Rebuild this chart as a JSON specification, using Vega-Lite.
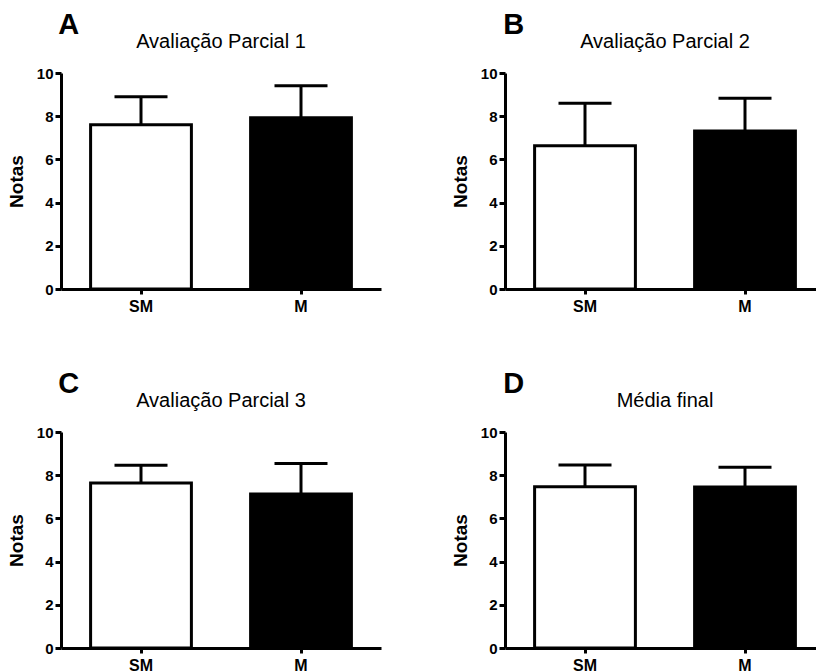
{
  "$schema": "https://vega.github.io/schema/vega-lite/v6.json",
  "padding": {"left": 7, "top": 11, "right": 0, "bottom": 0},
  "background": "white",
  "config": {
    "font": "Liberation Sans",
    "view": {"stroke": null},
    "axis": {
      "grid": false,
      "domainColor": "black",
      "domainWidth": 3,
      "tickColor": "black",
      "tickWidth": 3,
      "labelColor": "black",
      "labelFont": "Liberation Sans",
      "labelFontSize": 15,
      "labelFontWeight": "bold",
      "titleColor": "black",
      "titleFont": "Liberation Sans",
      "titleFontSize": 19,
      "titleFontWeight": "bold"
    },
    "title": {"color": "black", "font": "Liberation Sans"}
  },
  "data": {
    "values": [
      {"panel": "A", "group": "SM", "mean": 7.6, "upper": 8.9},
      {"panel": "A", "group": "M", "mean": 7.93, "upper": 9.41},
      {"panel": "B", "group": "SM", "mean": 6.63, "upper": 8.6},
      {"panel": "B", "group": "M", "mean": 7.31, "upper": 8.83},
      {"panel": "C", "group": "SM", "mean": 7.64, "upper": 8.46},
      {"panel": "C", "group": "M", "mean": 7.13, "upper": 8.54},
      {"panel": "D", "group": "SM", "mean": 7.46, "upper": 8.47},
      {"panel": "D", "group": "M", "mean": 7.45, "upper": 8.37}
    ]
  },
  "columns": 2,
  "spacing": {"row": 56, "column": 70},
  "concat": [
    {
      "title": {"text": "A", "anchor": "start", "fontSize": 29, "fontWeight": "bold", "dx": 51, "offset": -8},
      "vconcat": [
        {
          "title": {"text": "Avaliação Parcial 1", "fontSize": 20, "fontWeight": "normal", "anchor": "middle", "frame": "group", "offset": 14},
          "width": 320, "height": 216,
          "transform": [{"filter": "datum.panel == 'A'"}],
          "encoding": {"x": {"field": "group", "type": "nominal", "sort": ["SM", "M"], "scale": {"paddingInner": 0.37, "paddingOuter": 0.185}, "axis": {"title": null, "labelAngle": 0, "tickSize": 5, "labelPadding": 4, "labelFontSize": 16}}},
          "layer": [
            {"mark": {"type": "bar", "stroke": "black", "strokeWidth": 3}, "encoding": {"y": {"field": "mean", "type": "quantitative", "scale": {"domain": [0, 10]}, "axis": {"title": "Notas", "values": [0, 2, 4, 6, 8, 10], "tickSize": 6, "labelPadding": 2, "titlePadding": 10}}, "fill": {"field": "group", "type": "nominal", "scale": {"domain": ["SM", "M"], "range": ["white", "black"]}, "legend": null}}},
            {"mark": {"type": "rule", "color": "black", "strokeWidth": 3}, "encoding": {"y": {"field": "mean", "type": "quantitative"}, "y2": {"field": "upper"}}},
            {"mark": {"type": "tick", "color": "black", "size": 53, "thickness": 3, "opacity": 1}, "encoding": {"y": {"field": "upper", "type": "quantitative"}}}
          ]
        }
      ]
    },
    {
      "title": {"text": "B", "anchor": "start", "fontSize": 29, "fontWeight": "bold", "dx": 52, "offset": -8},
      "vconcat": [
        {
          "title": {"text": "Avaliação Parcial 2", "fontSize": 20, "fontWeight": "normal", "anchor": "middle", "frame": "group", "offset": 14},
          "width": 320, "height": 216,
          "transform": [{"filter": "datum.panel == 'B'"}],
          "encoding": {"x": {"field": "group", "type": "nominal", "sort": ["SM", "M"], "scale": {"paddingInner": 0.37, "paddingOuter": 0.185}, "axis": {"title": null, "labelAngle": 0, "tickSize": 5, "labelPadding": 4, "labelFontSize": 16}}},
          "layer": [
            {"mark": {"type": "bar", "stroke": "black", "strokeWidth": 3}, "encoding": {"y": {"field": "mean", "type": "quantitative", "scale": {"domain": [0, 10]}, "axis": {"title": "Notas", "values": [0, 2, 4, 6, 8, 10], "tickSize": 6, "labelPadding": 2, "titlePadding": 10}}, "fill": {"field": "group", "type": "nominal", "scale": {"domain": ["SM", "M"], "range": ["white", "black"]}, "legend": null}}},
            {"mark": {"type": "rule", "color": "black", "strokeWidth": 3}, "encoding": {"y": {"field": "mean", "type": "quantitative"}, "y2": {"field": "upper"}}},
            {"mark": {"type": "tick", "color": "black", "size": 53, "thickness": 3, "opacity": 1}, "encoding": {"y": {"field": "upper", "type": "quantitative"}}}
          ]
        }
      ]
    },
    {
      "title": {"text": "C", "anchor": "start", "fontSize": 29, "fontWeight": "bold", "dx": 51, "offset": -8},
      "vconcat": [
        {
          "title": {"text": "Avaliação Parcial 3", "fontSize": 20, "fontWeight": "normal", "anchor": "middle", "frame": "group", "offset": 14},
          "width": 320, "height": 216,
          "transform": [{"filter": "datum.panel == 'C'"}],
          "encoding": {"x": {"field": "group", "type": "nominal", "sort": ["SM", "M"], "scale": {"paddingInner": 0.37, "paddingOuter": 0.185}, "axis": {"title": null, "labelAngle": 0, "tickSize": 5, "labelPadding": 4, "labelFontSize": 16}}},
          "layer": [
            {"mark": {"type": "bar", "stroke": "black", "strokeWidth": 3}, "encoding": {"y": {"field": "mean", "type": "quantitative", "scale": {"domain": [0, 10]}, "axis": {"title": "Notas", "values": [0, 2, 4, 6, 8, 10], "tickSize": 6, "labelPadding": 2, "titlePadding": 10}}, "fill": {"field": "group", "type": "nominal", "scale": {"domain": ["SM", "M"], "range": ["white", "black"]}, "legend": null}}},
            {"mark": {"type": "rule", "color": "black", "strokeWidth": 3}, "encoding": {"y": {"field": "mean", "type": "quantitative"}, "y2": {"field": "upper"}}},
            {"mark": {"type": "tick", "color": "black", "size": 53, "thickness": 3, "opacity": 1}, "encoding": {"y": {"field": "upper", "type": "quantitative"}}}
          ]
        }
      ]
    },
    {
      "title": {"text": "D", "anchor": "start", "fontSize": 29, "fontWeight": "bold", "dx": 52, "offset": -8},
      "vconcat": [
        {
          "title": {"text": "Média final", "fontSize": 20, "fontWeight": "normal", "anchor": "middle", "frame": "group", "offset": 14},
          "width": 320, "height": 216,
          "transform": [{"filter": "datum.panel == 'D'"}],
          "encoding": {"x": {"field": "group", "type": "nominal", "sort": ["SM", "M"], "scale": {"paddingInner": 0.37, "paddingOuter": 0.185}, "axis": {"title": null, "labelAngle": 0, "tickSize": 5, "labelPadding": 4, "labelFontSize": 16}}},
          "layer": [
            {"mark": {"type": "bar", "stroke": "black", "strokeWidth": 3}, "encoding": {"y": {"field": "mean", "type": "quantitative", "scale": {"domain": [0, 10]}, "axis": {"title": "Notas", "values": [0, 2, 4, 6, 8, 10], "tickSize": 6, "labelPadding": 2, "titlePadding": 10}}, "fill": {"field": "group", "type": "nominal", "scale": {"domain": ["SM", "M"], "range": ["white", "black"]}, "legend": null}}},
            {"mark": {"type": "rule", "color": "black", "strokeWidth": 3}, "encoding": {"y": {"field": "mean", "type": "quantitative"}, "y2": {"field": "upper"}}},
            {"mark": {"type": "tick", "color": "black", "size": 53, "thickness": 3, "opacity": 1}, "encoding": {"y": {"field": "upper", "type": "quantitative"}}}
          ]
        }
      ]
    }
  ]
}
